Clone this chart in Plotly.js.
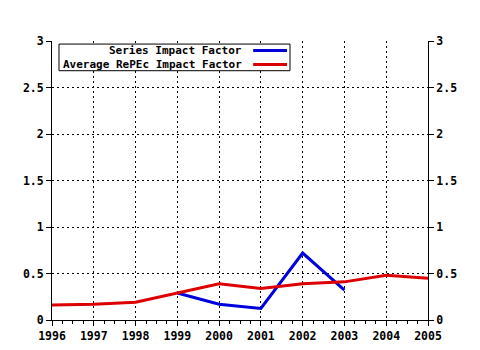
<!DOCTYPE html>
<html><head><meta charset="utf-8">
<script src="https://cdn.plot.ly/plotly-3.0.1.min.js"></script>
<style>html,body{margin:0;padding:0;background:#fff}</style>
</head><body>
<div id="chart" style="width:480px;height:350px"></div>
<script>
var years = [1996, 1997, 1998, 1999, 2000, 2001, 2002, 2003, 2004, 2005];
var seriesYears = [1999, 2000, 2001, 2002, 2003];
var seriesIF = [0.29, 0.17, 0.125, 0.72, 0.32];
var avgIF = [0.16, 0.17, 0.19, 0.29, 0.39, 0.34, 0.39, 0.41, 0.48, 0.45];
var seriesNames = ["Series Impact Factor", "Average RePEc Impact Factor"];
var seriesColors = ["#0000dd", "#dd0000"];

var FONT = {family: "DejaVu Sans Mono", size: 11.5, color: "#000"};
var LEGFONT = {family: "DejaVu Sans Mono", size: 11, color: "#000"};
var TICKFONT = {family: "DejaVu Sans Mono", size: 11.5, color: "#000", weight: "bold"};

var traces = [
  {x: seriesYears, y: seriesIF, mode: "lines", name: seriesNames[0],
   line: {color: seriesColors[0], width: 3}, showlegend: false},
  {x: years, y: avgIF, mode: "lines", name: seriesNames[1],
   line: {color: seriesColors[1], width: 3}, showlegend: false},
  {x: years, y: avgIF, yaxis: "y2", mode: "lines", line: {width: 0},
   opacity: 0, hoverinfo: "skip", showlegend: false}
];

var yTicks = [0, 0.5, 1, 1.5, 2, 2.5, 3];
var yTickText = ["0", "0.5", "1", "1.5", "2", "2.5", "3"];

var layout = {
  width: 480, height: 350,
  margin: {l: 52, r: 52, t: 41, b: 30},
  paper_bgcolor: "#fff", plot_bgcolor: "#fff",
  font: FONT,
  showlegend: false,
  xaxis: {
    range: [1996, 2005], tickmode: "array", tickvals: years,
    ticktext: years.map(String),
    showgrid: true, gridcolor: "#000", griddash: "2px,3px", gridwidth: 1,
    showline: true, linecolor: "#000", linewidth: 1,
    ticks: "outside", ticklen: 5, tickcolor: "#000",
    minor: {dtick: 0.25, ticks: "outside", ticklen: 3, tickcolor: "#000", showgrid: false},
    zeroline: false,
    tickfont: TICKFONT
  },
  yaxis: {
    range: [0, 3], tickmode: "array", tickvals: yTicks, ticktext: yTickText,
    showgrid: true, gridcolor: "#000", griddash: "2px,3px", gridwidth: 1,
    showline: true, linecolor: "#000", linewidth: 1,
    ticks: "outside", ticklen: 5, tickcolor: "#000",
    zeroline: false,
    tickfont: TICKFONT
  },
  yaxis2: {
    range: [0, 3], overlaying: "y", side: "right", tickmode: "array",
    tickvals: yTicks, ticktext: yTickText,
    showgrid: false, showline: true, linecolor: "#000", linewidth: 1,
    ticks: "outside", ticklen: 5, tickcolor: "#000", zeroline: false,
    tickfont: TICKFONT
  },
  shapes: [
    {type: "rect", xref: "paper", yref: "paper", x0: 0.0186, x1: 0.633, y0: 0.8935, y1: 0.989,
     line: {color: "#000", width: 1}, fillcolor: "#fff", layer: "above"},
    {type: "line", xref: "paper", yref: "paper", x0: 0.535, x1: 0.625, y0: 0.966, y1: 0.966,
     line: {color: seriesColors[0], width: 3}},
    {type: "line", xref: "paper", yref: "paper", x0: 0.535, x1: 0.625, y0: 0.916, y1: 0.916,
     line: {color: seriesColors[1], width: 3}}
  ],
  annotations: [
    {xref: "paper", yref: "paper", x: 0.508, y: 0.966, xanchor: "right", yanchor: "middle",
     text: "<b>" + seriesNames[0] + "</b>", showarrow: false, font: LEGFONT, borderpad: 0},
    {xref: "paper", yref: "paper", x: 0.508, y: 0.916, xanchor: "right", yanchor: "middle",
     text: "<b>" + seriesNames[1] + "</b>", showarrow: false, font: LEGFONT, borderpad: 0}
  ]
};

Plotly.newPlot("chart", traces, layout, {staticPlot: true, displayModeBar: false});
</script>
</body></html>
